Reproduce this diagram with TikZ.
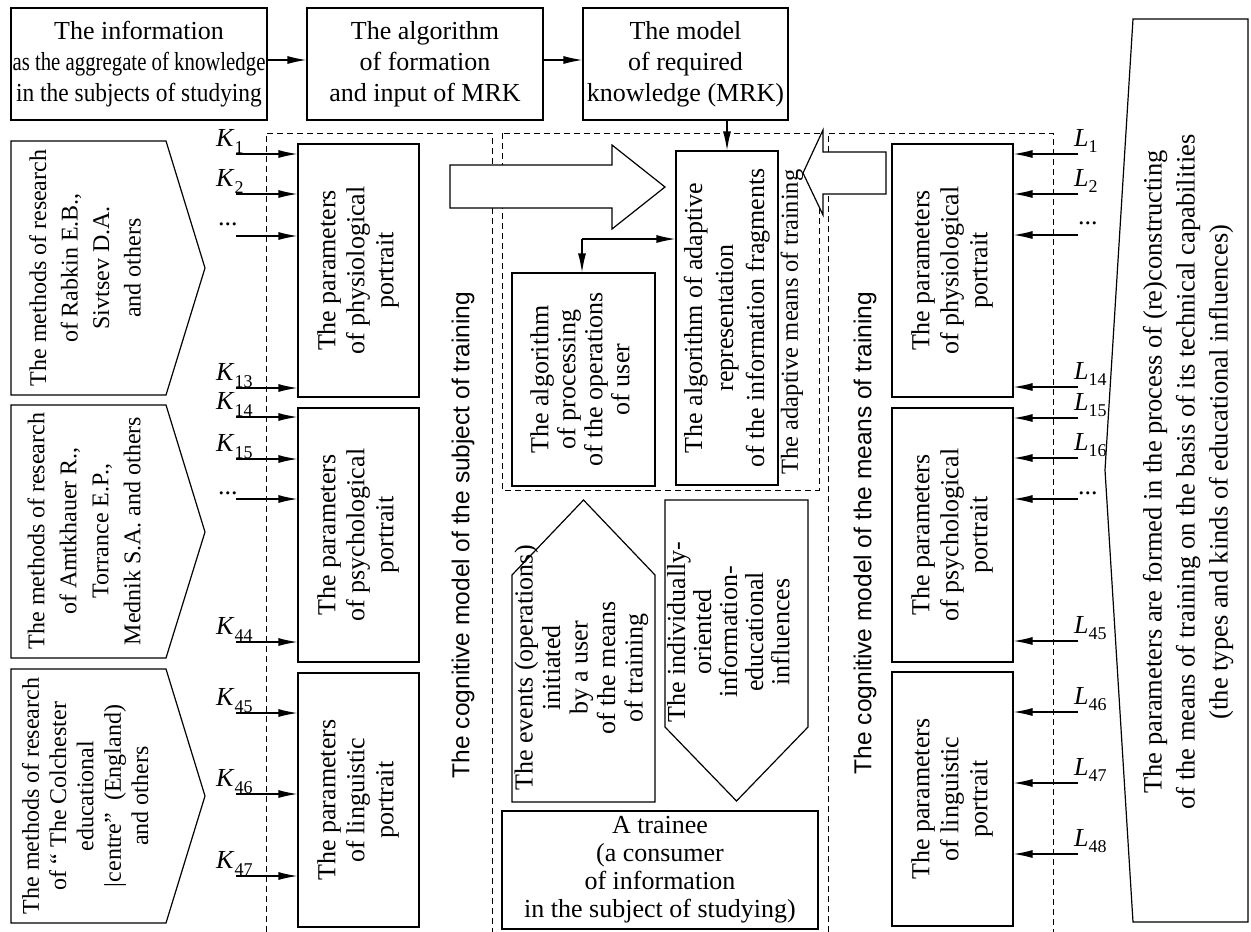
\documentclass[tikz,border=0pt]{standalone}
\usepackage{graphicx}
\usepackage{fontspec}
\setmainfont{Liberation Serif}
\newfontfamily\sansf{Liberation Sans}
\usetikzlibrary{arrows.meta,calc}
\newcommand{\rtx}[3]{\rotatebox{90}{\fontsize{#1}{#2}\selectfont\begin{tabular}{@{}c@{}}#3\end{tabular}}}
\newcommand{\Ksub}[2]{\textit{#1}\raisebox{-7pt}{\fontsize{18}{18}\selectfont #2}}
\begin{document}
\begin{tikzpicture}[x=1pt,y=-1pt,
  box/.style={draw,line width=1.2pt,fill=white,inner sep=0pt},
  shp/.style={draw,line width=1.2pt,fill=white,line join=miter},
  hollow/.style={draw,line width=1.2pt,fill=white,line join=miter},
  dsh/.style={line width=0.9pt,dash pattern=on 6pt off 4pt},
  arr/.style={line width=1.2pt,-{Latex[length=19pt,width=8pt]}},
  tn/.style={inner sep=0pt},
  lbl/.style={inner sep=0pt,anchor=base west,font=\fontsize{26}{26}\selectfont}]
\useasboundingbox (0,0) rectangle (1251,932);

% dashed frames
\draw[dsh] (266,932) -- (266,133) -- (492,133) -- (492,932);
\draw[dsh] (828,932) -- (828,133) -- (1053,133) -- (1053,932);
\draw[dsh] (502,133) rectangle (819,490);

% top row
\node[box,minimum width=256pt,minimum height=112pt,font=\fontsize{26}{31}\selectfont] (b1) at (139,64)
 {\begin{tabular}{@{}c@{}}The information\\\scalebox{0.8}[1]{as the aggregate of knowledge}\\\scalebox{0.9}[1]{in the subjects of studying}\end{tabular}};
\node[box,minimum width=236pt,minimum height=112pt,font=\fontsize{26}{31}\selectfont] (b2) at (425,64)
 {\begin{tabular}{@{}c@{}}The algorithm\\of formation\\and input of MRK\end{tabular}};
\node[box,minimum width=205pt,minimum height=112pt,font=\fontsize{26}{31}\selectfont] (b3) at (685.5,64)
 {\begin{tabular}{@{}c@{}}The model\\of required\\knowledge (MRK)\end{tabular}};
\draw[arr] ([yshift=4pt]b1.east) -- ([yshift=4pt]b2.west);
\draw[arr] ([yshift=4pt]b2.east) -- ([yshift=4pt]b3.west);

% left pentagons
\draw[shp] (11,141) -- (166,141) -- (205,268) -- (166,395) -- (11,395) -- cycle;
\node[tn] (m1) at (87,268) {\rtx{24}{31.5}{The methods of research\\of Rabkin E.B.,\\Sivtsev D.A.\\and others}};
\draw[shp] (11,405) -- (166,405) -- (205,532) -- (166,658) -- (11,658) -- cycle;
\node[tn] (m2) at (86,531) {\rtx{24}{32}{The methods of research\\of Amtkhauer R.,\\Torrance E.P.,\\Mednik S.A. and others}};
\draw[shp] (11,669) -- (166,669) -- (205,796) -- (166,923) -- (11,923) -- cycle;
\node[tn] (m3) at (88,796) {\rtx{24}{27.3}{The methods of research\\of “ The Colchester\\educational\\|centre”\ \ (England)\\and others}};

% left portraits
\node[box,minimum width=121pt,minimum height=253pt] (pl1) at (358.5,270.5) {\rtx{26}{29}{The parameters\\of physiological\\portrait}};
\node[box,minimum width=121pt,minimum height=254pt] (pl2) at (358.5,535) {\rtx{26}{29}{The parameters\\of psychological\\portrait}};
\node[box,minimum width=121pt,minimum height=254pt] (pl3) at (358.5,800) {\rtx{26}{29}{The parameters\\of linguistic\\portrait}};

% right portraits
\node[box,minimum width=121pt,minimum height=253pt] (pr1) at (952.5,270.5) {\rtx{26}{29}{The parameters\\of physiological\\portrait}};
\node[box,minimum width=121pt,minimum height=254pt] (pr2) at (952.5,535) {\rtx{26}{29}{The parameters\\of psychological\\portrait}};
\node[box,minimum width=121pt,minimum height=254pt] (pr3) at (952.5,799) {\rtx{26}{29}{The parameters\\of linguistic\\portrait}};

% K inputs
\foreach \c/\y/\t in {a/154/pl1,b/194/pl1,c/236/pl1,d/388/pl1,e/417/pl2,f/459/pl2,g/499/pl2,h/642/pl2,i/713/pl3,j/794/pl3,k/876/pl3}{
  \coordinate (K\c) at (236,\y);
  \draw[arr] (K\c) -- (K\c -| \t.west);
}
\foreach \c/\s in {a/1,b/2,d/13,e/14,f/15,h/44,i/45,j/46,k/47}{
  \node[lbl] at ($(K\c)+(-20,-8)$) {\Ksub{K}{\s}};
}
\node[lbl] at ($(Kc)+(-18,-11)$) {...};
\node[lbl] at ($(Kg)+(-18,-5)$) {...};

% L inputs
\foreach \c/\y/\t in {a/154/pr1,b/194/pr1,c/235/pr1,d/387/pr1,e/418/pr2,f/458/pr2,g/499/pr2,h/641/pr2,i/712/pr3,j/783/pr3,k/854/pr3}{
  \coordinate (L\c) at (1078,\y);
  \draw[arr] (L\c) -- (L\c -| \t.east);
}
\foreach \c/\s in {a/1,b/2,d/14,e/15,f/16,h/45,i/46,j/47,k/48}{
  \node[lbl] at ($(L\c)+(-4,-8)$) {\textit{L}\raisebox{-6pt}{\fontsize{18}{18}\selectfont\s}};
}
\node[lbl] at ($(Lc)+(0,-11)$) {...};
\node[lbl] at ($(Lg)+(0,-5)$) {...};

% hollow arrows
\draw[hollow] (450,165) -- (612,165) -- (612,145) -- (665,187) -- (612,229) -- (612,208) -- (450,208) -- cycle;
\draw[hollow] (886,152) -- (823,152) -- (823,130) -- (803,173) -- (823,215) -- (823,194) -- (886,194) -- cycle;

% adaptive means
\node[box,minimum width=102pt,minimum height=334pt] (alg) at (727,318) {\rtx{26}{31}{The algorithm of adaptive\\representation\\of the information fragments}};
\node[box,minimum width=143pt,minimum height=213pt] (proc) at (583.5,379.5) {\rtx{26}{27}{The algorithm\\of processing\\of the operations\\of user}};
\node[tn] (adm) at (792,322) {\rotatebox{90}{\fontsize{24.5}{26}\selectfont The adaptive means of training}};
\draw[arr] (alg.north |- b3.south) -- (alg.north);
\coordinate (jn) at (582,239);
\draw[arr] (jn) -- (jn -| alg.west);
\draw[arr] (jn) -- (jn |- proc.north);

% events / influences
\draw[shp] (512,802) -- (512,575) -- (583.5,500) -- (655,575) -- (655,802) -- cycle;
\node[tn] (ev) at (582,668) {\rtx{26}{27.5}{The events (operations)\\initiated\\by a user\\of the means\\of training}};
\draw[shp] (665,500) -- (808,500) -- (808,727) -- (736.5,801) -- (665,727) -- cycle;
\node[tn] (inf) at (732,632) {\rtx{26}{26}{The individually-\\oriented\\information-\\educational\\influences}};

% trainee
\node[box,minimum width=316pt,minimum height=118pt,font=\fontsize{26}{28}\selectfont] (tr) at (660,870)
 {\begin{tabular}{@{}c@{}}A trainee\\(a consumer\\of information\\in the subject of studying)\end{tabular}};

% cognitive model labels
\node[tn] (cms) at (463,535) {\rotatebox{90}{\sansf\fontsize{24.5}{26}\selectfont The cognitive model of the subject of training}};
\node[tn] (cmm) at (865,533) {\rotatebox{90}{\sansf\fontsize{24.5}{26}\selectfont The cognitive model of the means of training}};

% right shape
\draw[shp] (1133,19) -- (1248,19) -- (1248,922) -- (1133,922) -- (1105,470) -- cycle;
\node[tn] (par) at (1188,472) {\rtx{26.5}{33}{The parameters are formed in the process of (re)constructing\\of the means of training on the basis of its technical capabilities\\(the types and kinds of educational influences)}};
\end{tikzpicture}
\end{document}
